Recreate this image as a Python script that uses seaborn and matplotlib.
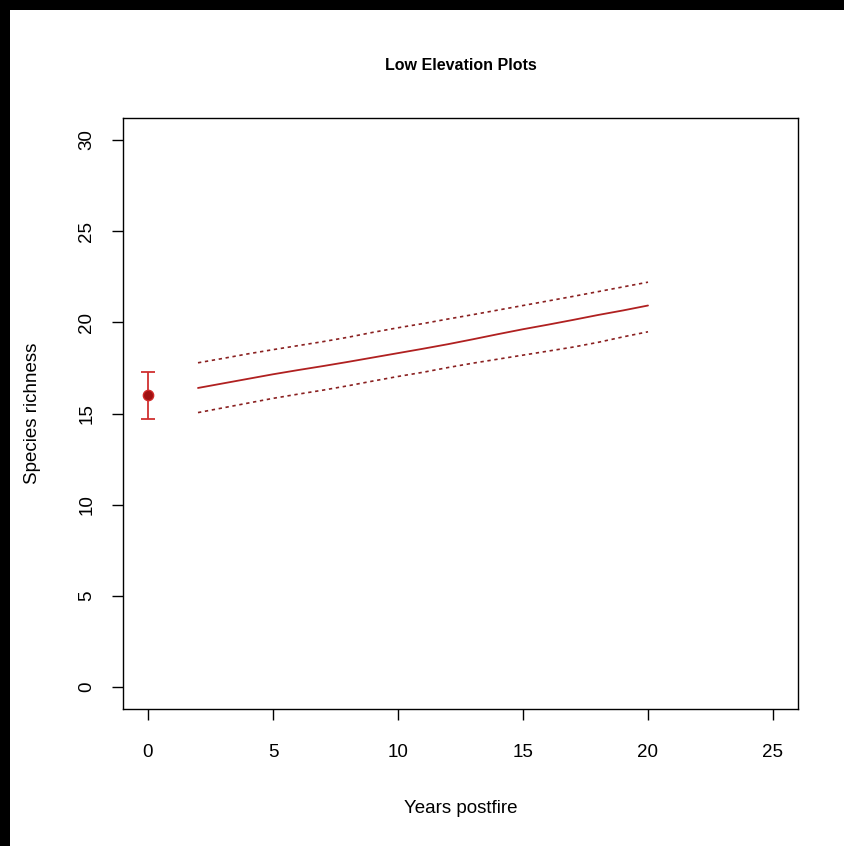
import matplotlib
matplotlib.use("Agg")
import matplotlib.pyplot as plt
import seaborn as sns
import pandas as pd
from matplotlib.patches import Rectangle
from matplotlib import font_manager

# ---- data ----
years = list(range(2, 21))
richness_mean = [16.40, 16.65, 16.90, 17.15, 17.38, 17.60, 17.83, 18.07, 18.31, 18.55,
                 18.80, 19.07, 19.35, 19.62, 19.87, 20.13, 20.40, 20.65, 20.92]
richness_upper = [17.78, 18.02, 18.27, 18.50, 18.72, 18.94, 19.18, 19.45, 19.70, 19.93,
                  20.18, 20.42, 20.67, 20.92, 21.17, 21.42, 21.68, 21.94, 22.20]
richness_lower = [15.05, 15.31, 15.57, 15.83, 16.06, 16.28, 16.52, 16.78, 17.03, 17.26,
                  17.52, 17.76, 17.98, 18.20, 18.42, 18.64, 18.90, 19.20, 19.48]
baseline_year = [0]
baseline_mean = [16.0]
baseline_err = [1.3]
x_ticks = [0, 5, 10, 15, 20, 25]
y_ticks = [0, 5, 10, 15, 20, 25, 30]

sns.set_style("ticks")
available = {f.name for f in font_manager.fontManager.ttflist}
main_font = "Liberation Sans Narrow" if "Liberation Sans Narrow" in available else "Liberation Sans"
plt.rcParams['font.family'] = [main_font, 'Liberation Sans', 'DejaVu Sans']
plt.rcParams['text.color'] = 'black'

W, H = 845, 846
fig = plt.figure(figsize=(W / 100, H / 100), dpi=100)
fig.patch.set_facecolor("white")
ax = fig.add_axes([123 / W, (H - 709) / H, 675 / W, 591 / H])

df = pd.DataFrame({"year": years, "mean": richness_mean,
                   "upper": richness_upper, "lower": richness_lower})

sns.lineplot(data=df, x="year", y="mean", color="#b02020", lw=1.3, ax=ax)
sns.lineplot(data=df, x="year", y="upper", color="#8a2020", lw=1.2,
             linestyle=(0, (2, 2.2)), ax=ax)
sns.lineplot(data=df, x="year", y="lower", color="#8a2020", lw=1.2,
             linestyle=(0, (2, 2.2)), ax=ax)

ax.errorbar(baseline_year, baseline_mean, yerr=baseline_err, fmt="none",
            ecolor="#d03030", elinewidth=1.3, capsize=5.2, capthick=1.3, zorder=3)
sns.scatterplot(x=baseline_year, y=baseline_mean, s=55, color="#a01010",
                edgecolor="#d02828", linewidth=1.0, zorder=4, ax=ax)

ax.set_xlim(-1, 26)
ax.set_ylim(-1.2, 31.2)
ax.set_xticks(x_ticks)
ax.set_yticks(y_ticks)
ax.set_xlabel("")
ax.set_ylabel("")

for s in ax.spines.values():
    s.set_visible(True)
    s.set_color("black")
    s.set_linewidth(1.0)

ax.tick_params(axis="both", direction="out", length=8, width=1, colors="black",
               labelsize=13.5)
ax.tick_params(axis="x", pad=17)
ax.tick_params(axis="y", pad=12)
for lbl in ax.get_yticklabels():
    lbl.set_rotation(90)
    lbl.set_va("center")

fig.text(460.5 / W, 1 - 66 / H, "Low Elevation Plots", ha="center", va="center",
         fontsize=11.5, fontweight="bold", color="black")
fig.text(461 / W, 1 - 808 / H, "Years postfire", ha="center", va="center",
         fontsize=13.5, color="black")
fig.text(33 / W, 1 - 413 / H, "Species richness", ha="center", va="center",
         rotation=90, fontsize=13.5, color="black")

# black frame strips at top and left edge of the image
fig.patches.append(Rectangle((0, 1 - 10 / H), 1, 10 / H, transform=fig.transFigure,
                             facecolor="black", edgecolor="none", zorder=10))
fig.patches.append(Rectangle((0, 0), 10 / W, 1, transform=fig.transFigure,
                             facecolor="black", edgecolor="none", zorder=10))

fig.savefig("out.png", dpi=100)
